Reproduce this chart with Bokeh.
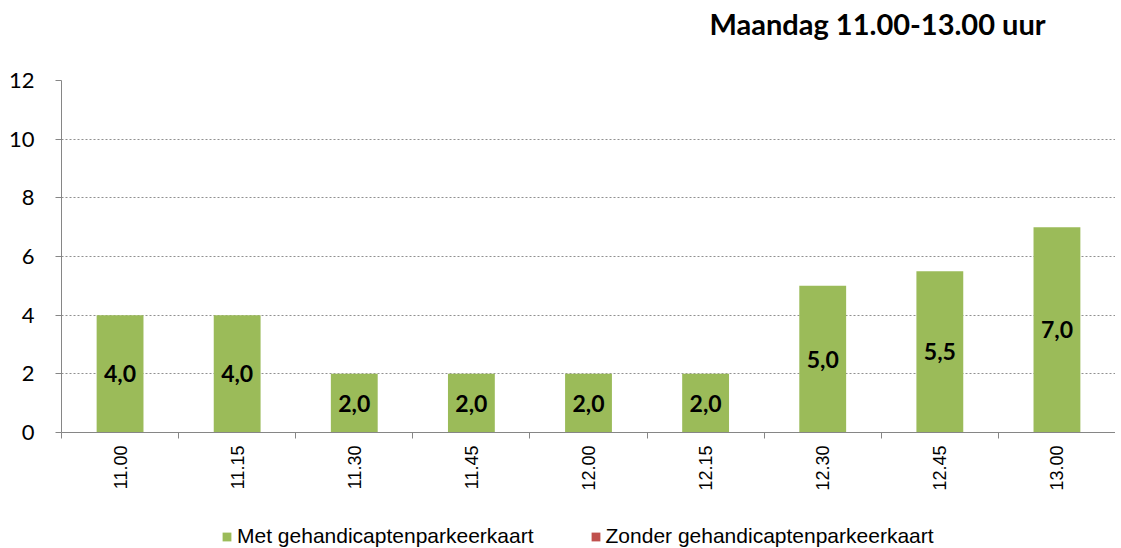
import math
from bokeh.plotting import figure
from bokeh.layouts import column
from bokeh.models import (ColumnDataSource, FixedTicker, Legend, LegendItem, Label)
from bokeh.core.properties import value
from bokeh.embed import file_html
from bokeh.resources import INLINE

title_text = "Maandag 11.00-13.00 uur"
categories = ["11.00", "11.15", "11.30", "11.45", "12.00", "12.15", "12.30", "12.45", "13.00"]
met = [4.0, 4.0, 2.0, 2.0, 2.0, 2.0, 5.0, 5.5, 7.0]
zonder = [0, 0, 0, 0, 0, 0, 0, 0, 0]
y_ticks = [0, 2, 4, 6, 8, 10, 12]
series_names = ["Met gehandicaptenparkeerkaart", "Zonder gehandicaptenparkeerkaart"]

GREEN = "#9BBB59"
RED = "#C0504D"
W = 1115


def strip(h):
    f = figure(width=W, height=h, x_range=(0, 1), y_range=(0, 1),
               output_backend="svg", toolbar_location=None,
               x_axis_type=None, y_axis_type=None,
               min_border_left=0, min_border_right=0, min_border_top=0, min_border_bottom=0)
    f.outline_line_color = None
    f.grid.visible = False
    return f


# title strip
pt = strip(50)
pt.add_layout(Label(x=648, y=27, x_units="screen", y_units="screen", text=title_text,
                    text_font="Lato", text_font_style="bold", text_font_size="29px",
                    text_color="black", text_baseline="middle", text_align="left"))

xs = [i + 0.5 for i in range(len(categories))]
src = ColumnDataSource(dict(
    x=xs, met=met, zonder=zonder,
    top2=[m + z for m, z in zip(met, zonder)],
    ymid=[m / 2 for m in met],
    lab=[f"{m:.1f}".replace(".", ",") for m in met],
))

p = figure(width=W, height=460, x_range=(0, len(categories)), y_range=(0, 12),
           output_backend="svg", toolbar_location=None,
           min_border_left=61, min_border_right=0, min_border_top=30,
           min_border_bottom=78)
p.outline_line_color = None

p.vbar(x="x", bottom=0, top="met", width=0.4, source=src,
       fill_color=GREEN, line_color=None)
p.vbar(x="x", bottom="met", top="top2", width=0.4, source=src,
       fill_color=RED, line_color=None)

p.text(x="x", y="ymid", text="lab", source=src, text_align="center",
       text_baseline="middle", text_font=value("Lato"), text_font_style="bold",
       text_font_size="23px", text_color="black")

# y axis
p.yaxis.ticker = FixedTicker(ticks=y_ticks)
p.yaxis.axis_line_color = "#868686"
p.yaxis.major_tick_line_color = "#868686"
p.yaxis.major_tick_out = 6
p.yaxis.major_tick_in = 0
p.yaxis.minor_tick_line_color = None
p.yaxis.major_label_text_font = "Lato"
p.yaxis.major_label_text_font_size = "22px"
p.yaxis.major_label_text_color = "black"
p.yaxis.major_label_standoff = 21

# x axis
p.xaxis.ticker = FixedTicker(ticks=xs, minor_ticks=list(range(len(categories) + 1)))
p.xaxis.major_label_overrides = {x: c for x, c in zip(xs, categories)}
p.xaxis.major_label_orientation = math.pi / 2
p.xaxis.major_tick_line_color = None
p.xaxis.minor_tick_line_color = "#868686"
p.xaxis.minor_tick_out = 6
p.xaxis.minor_tick_in = 0
p.xaxis.axis_line_color = "#868686"
p.xaxis.major_label_text_font = "Liberation Sans"
p.xaxis.major_label_text_font_size = "18px"
p.xaxis.major_label_text_color = "black"
p.xaxis.major_label_standoff = 7

p.xgrid.grid_line_color = None
p.ygrid.ticker = FixedTicker(ticks=y_ticks[1:])
p.ygrid.grid_line_color = "#909090"
p.ygrid.grid_line_dash = "2 2"
p.ygrid.grid_line_width = 1

# legend strip below the chart
p2 = strip(38)
g1 = p2.vbar(x=[-5], top=[-5], bottom=[-6], width=0.1, fill_color=GREEN, line_color=None)
g2 = p2.vbar(x=[-5], top=[-5], bottom=[-6], width=0.1, fill_color=RED, line_color=None)
legend = Legend(items=[LegendItem(label=series_names[0], renderers=[g1]),
                       LegendItem(label=series_names[1], renderers=[g2])],
                orientation="horizontal", location=(160, 0),
                label_text_font="Liberation Sans", label_text_font_size="21px",
                label_text_color="black",
                glyph_width=11, glyph_height=11, label_standoff=5, spacing=56,
                border_line_color=None, background_fill_alpha=0, padding=0, margin=0)
p2.add_layout(legend)

open("out.html", "w").write(file_html(column(pt, p, p2, spacing=0), INLINE))
